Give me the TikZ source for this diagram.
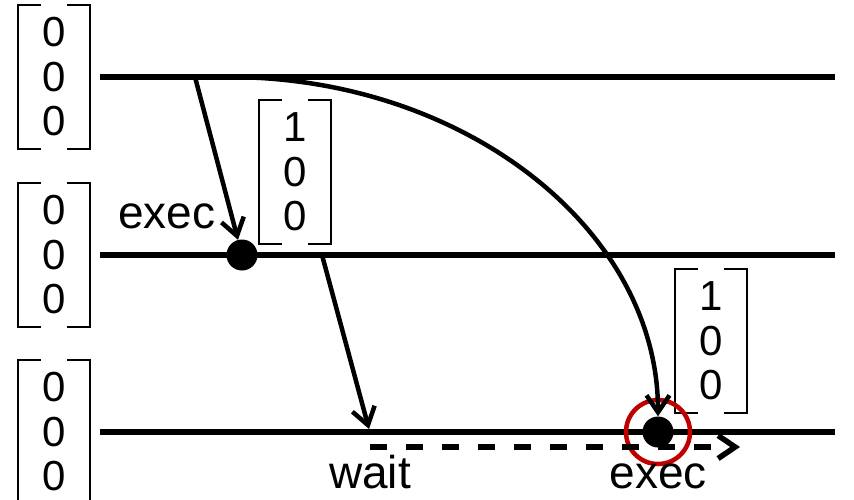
\documentclass[tikz,border=0pt]{standalone}
\usepackage{fontspec}
\setmainfont{Liberation Sans}
\usetikzlibrary{arrows.meta}
\definecolor{markred}{RGB}{192,0,0}

\newcommand{\brackets}[1]{%
  \draw[bracket] ([xshift=23pt]#1.north west) -| (#1.south west) -- ++(23pt,0);
  \draw[bracket] ([xshift=-23pt]#1.north east) -| (#1.south east) -- ++(-23pt,0);}

\begin{document}
\begin{tikzpicture}[x=1pt, y=-1pt,
  timeline/.style={line width=5.5pt},
  msg/.style={line width=4.5pt, -{Straight Barb[length=17pt,width=23pt]}},
  wait/.style={msg, line width=5.5pt, dash pattern=on 17pt off 19pt},
  event/.style={circle, fill=black, minimum size=31pt, inner sep=0pt},
  highlight/.style={circle, draw=markred, line width=4.5pt, minimum size=64pt, inner sep=0pt},
  vec/.style={minimum width=72pt, minimum height=143pt, inner sep=0pt, align=center,
    font=\fontsize{42}{44.5}\selectfont},
  label/.style={anchor=base, inner sep=0pt, font=\fontsize{46}{50}\selectfont},
  bracket/.style={line width=1.8pt}]
  \useasboundingbox (0,0) rectangle (854,499);

  % Timelines
  \coordinate (t1a) at (100,77);  \coordinate (t1b) at (835,77);
  \coordinate (t2a) at (100,255); \coordinate (t2b) at (835,255);
  \coordinate (t3a) at (100,432); \coordinate (t3b) at (835,432);
  \draw[timeline] (t1a) -- (t1b);
  \draw[timeline] (t2a) -- (t2b);
  \draw[timeline] (t3a) -- (t3b);

  % Vectors
  \node[vec] (v1) at (54,77) {0\\0\\0};
  \node[vec] (v2) at (54,255) {0\\0\\0};
  \node[vec] (v3) at (54,432) {0\\0\\0};
  \node[vec] (v4) at (295,172) {1\\0\\0};
  \node[vec] (v5) at (711,341) {1\\0\\0};
  \brackets{v1} \brackets{v2} \brackets{v3} \brackets{v4} \brackets{v5}

  % Events
  \node[event] (e1) at (242,255) {};
  \node[event] (e2) at (658,432) {};
  \node[highlight] (h2) at (658,432) {};

  % Messages
  \coordinate (s1) at (195,77);
  \coordinate (s2) at (228,77);
  \coordinate (s3) at (322,255);
  \coordinate (r3) at (369,429);
  \draw[msg] (s1) -- (e1);
  \draw[msg] (s2) .. controls (465,77) and (658,230) .. (e2);
  \draw[msg] (s3) -- (r3);

  % Waiting
  \coordinate (w1) at (370,447);
  \coordinate (w2) at (740,447);
  \draw[wait] (w1) -- (w2);

  % Labels
  \node[label] (x1) at (167,228) {exec};
  \node[label] (x2) at (370,488) {wait};
  \node[label] (x3) at (658,488) {exec};
\end{tikzpicture}
\end{document}
